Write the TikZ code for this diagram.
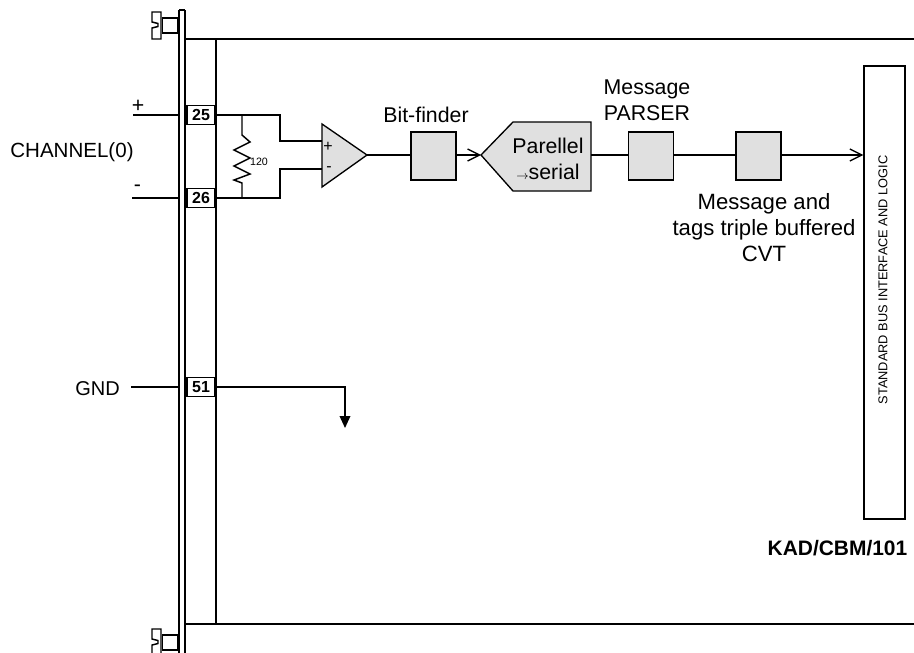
\documentclass[tikz,border=0pt]{standalone}
\usepackage{fontspec}
\setmainfont{Liberation Sans}
\usepackage{xcolor}
\usetikzlibrary{arrows.meta, positioning}
\definecolor{blockgray}{RGB}{224, 224, 224}

\begin{document}
\begin{tikzpicture}[
    x=0.75pt, y=-0.75pt,
    line width=1.1pt,
    block/.style={draw, fill=blockgray, minimum width=33.8pt, minimum height=36pt, inner sep=0pt, line width=1pt},
    pinbox/.style={draw, fill=white, minimum width=21pt, minimum height=14.2pt, inner sep=0pt, font=\fontsize{12}{12}\selectfont\bfseries},
    label/.style={font=\fontsize{16}{19.5}\selectfont, align=center, inner sep=0pt},
    wire/.style={line width=1.1pt},
    openarrow/.style={-{Straight Barb[length=9pt,width=9pt,line width=1pt]}},
]
    \useasboundingbox (0,0) rectangle (914,653);

    % Front panel and card outline
    \begin{scope}
        \clip (0,0) rectangle (914,653);
        \draw (179,10) -- (179,660);
        \draw (185,10) -- (185,660);
        \draw (179,10) -- (185,10);
        \draw (185,39) -- (914,39);
        \draw (185,624) -- (914,624);
        \draw (216,39) -- (216,624);

        % Screws
        \foreach \y in {0, 617} {
            \draw (162.5,18+\y) rectangle (178,33+\y);
            \draw (161,12+\y) -- (152,12+\y) -- (152,22+\y) -- (158,23.5+\y) -- (158,26.5+\y) -- (152,28+\y) -- (152,39+\y) -- (161,39+\y) -- cycle;
        }
    \end{scope}

    % Pins
    \node[pinbox] (pin25) at (201,115) {25};
    \node[pinbox] (pin26) at (201,198) {26};
    \node[pinbox] (pin51) at (201,387) {51};

    % Channel inputs
    \node[label, font=\fontsize{15.4}{19}\selectfont] (channel) at (72,152) {CHANNEL(0)};
    \node[label] (plus) at (138,106) {+};
    \node[label] (minus) at (137.5,188) {-};
    \node[label, font=\fontsize{15}{19}\selectfont] (gnd) at (97.5,389) {GND};
    \coordinate (plusin) at (133,115);
    \coordinate (minusin) at (132,198);
    \coordinate (gndin) at (131,387);
    \coordinate (plusend) at (178,115);
    \coordinate (minusend) at (178,198);
    \coordinate (gndend) at (178,387);
    \draw[wire] (plusin) -- (plusend);
    \draw[wire] (minusin) -- (minusend);
    \draw[wire] (gndin) -- (gndend);

    % Differential amplifier
    \coordinate (ampplus) at (322,141);
    \coordinate (ampminus) at (322,169);
    \coordinate (ampout) at (367,155);
    \draw[fill=blockgray, line width=1pt] (322,124) -- (ampout) -- (322,187) -- cycle;
    \node[font=\fontsize{12}{12}\selectfont, inner sep=0pt] (ampplussign) at (328,147) {+};
    \node[font=\fontsize{12}{12}\selectfont, inner sep=0pt] (ampminussign) at (329,169) {-};
    \draw[wire] (pin25.east) -- (280,115) -- (280,141) -- (ampplus);
    \draw[wire] (pin26.east) -- (280,198) -- (280,169) -- (ampminus);

    % Termination resistor
    \coordinate (restop) at (242,115);
    \coordinate (resbot) at (242,198);
    \draw[wire] (restop) -- (242,135) -- (250,142) -- (234,150) -- (250,158) -- (234,166) -- (250,174) -- (234,180) -- (242,183) -- (resbot);
    \node[font=\fontsize{8}{8}\selectfont, inner sep=0pt] (reslabel) at (259,162) {120};

    % Signal chain
    \node[block] (bitfinder) at (433.5,156) {};
    \coordinate (pstip) at (481,155);
    \coordinate (psout) at (591,155);
    \draw[fill=blockgray, line width=1pt] (pstip) -- (513,122) -- (591,122) -- (591,191) -- (513,191) -- cycle;
    \node[block] (parser) at (651,156) {};
    \node[block] (cvt) at (758.5,156) {};
    \node[draw, line width=1pt, fill=white, minimum width=30.75pt, minimum height=339.75pt, inner sep=0pt] (bus) at (884.5,292.5) {};

    \draw[wire] (ampout) -- (bitfinder.west |- ampout);
    \draw[wire, openarrow] (bitfinder.east |- pstip) -- (pstip);
    \draw[wire] (psout) -- (parser.west |- psout);
    \draw[wire] (parser.east |- psout) -- (cvt.west |- psout);
    \draw[wire, openarrow] (cvt.east |- psout) -- (bus.west |- psout);

    % Ground return
    \coordinate (gndtip) at (345,428);
    \draw[wire, -{Triangle[length=9pt,width=8pt]}] (pin51.east) -- (345,387) -- (gndtip);

    % Labels
    \node[label] (bitlabel) at (426,115) {Bit-finder};
    \node[label] (pslabel) at (548,158.5) {Parellel\\[0pt]{\fontsize{9}{9}\selectfont$\rightarrow$}serial};
    \node[label] (parserlabel) at (647,100) {Message\\PARSER};
    \node[label, font=\fontsize{16.6}{19.5}\selectfont] (cvtlabel) at (764,228) {Message and\\tags triple buffered\\CVT};
    \node[font=\fontsize{9.6}{9.6}\selectfont, inner sep=0pt, rotate=90] (buslabel) at (883,280) {STANDARD BUS INTERFACE AND LOGIC};
    \node[font=\fontsize{15.7}{16}\selectfont\bfseries, inner sep=0pt, anchor=east] (cardname) at (908,548) {KAD/CBM/101};
\end{tikzpicture}
\end{document}
